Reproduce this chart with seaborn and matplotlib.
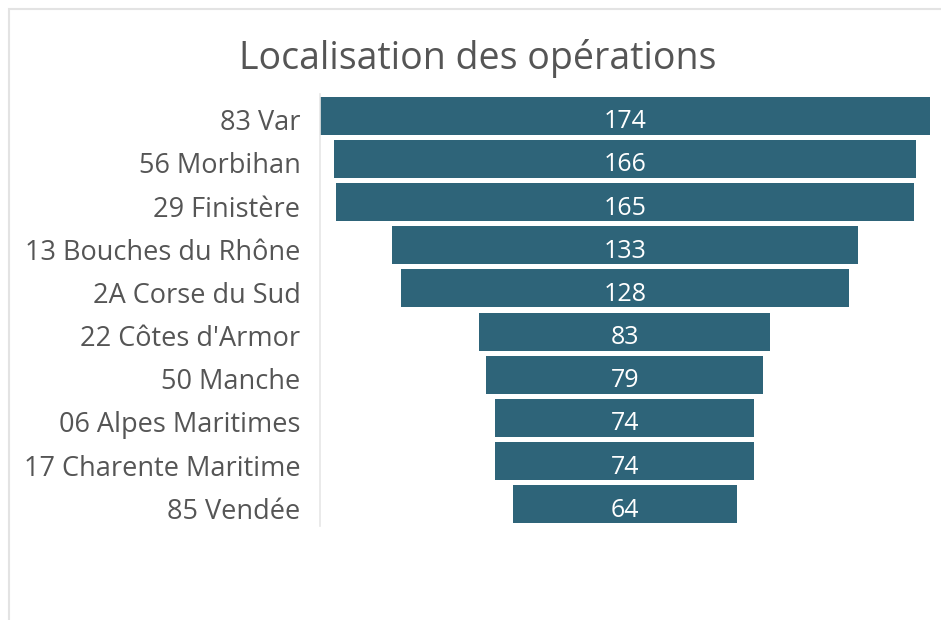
import matplotlib
matplotlib.use("Agg")
import matplotlib.pyplot as plt
import matplotlib.transforms as mtransforms
import seaborn as sns
import pandas as pd
from matplotlib.patches import Rectangle

categories = ["83 Var", "56 Morbihan", "29 Finistère", "13 Bouches du Rhône",
              "2A Corse du Sud", "22 Côtes d'Armor", "50 Manche",
              "06 Alpes Maritimes", "17 Charente Maritime", "85 Vendée"]
values = [174, 166, 165, 133, 128, 83, 79, 74, 74, 64]
title = "Localisation des opérations"

sns.set_theme(style="white")
plt.rcParams["font.family"] = ["Open Sans", "DejaVu Sans"]

df = pd.DataFrame({"cat": categories, "val": values})
vmax = max(values)

fig = plt.figure(figsize=(9.41, 6.2), dpi=100)
fig.patches.append(Rectangle((0.0095, -0.01), 1.0, 0.996, transform=fig.transFigure,
                             fill=False, edgecolor="#e3e3e3", linewidth=1.5))
ax = fig.add_axes([0.340, 0.152, 0.648, 0.696])
color = "#2e6479"
sns.barplot(data=df, x="val", y="cat", orient="h", color=color, saturation=1,
            width=0.88, ax=ax)
for p, v in zip(ax.patches, values):
    p.set_x((vmax - v) / 2)
    p.set_edgecolor("none")
    ax.text(vmax / 2, p.get_y() + p.get_height() / 2 + 0.29, f"{v}", ha="center",
            va="baseline", color="white", fontsize=18)

ax.set_xlim(0, vmax)
ax.set_ylim(len(values) - 0.5, -0.5)
ax.set_xlabel("")
ax.set_ylabel("")
ax.set_xticks([])
for s in ["top", "right", "bottom"]:
    ax.spines[s].set_visible(False)
ax.spines["left"].set_color("#e6e6e6")
ax.spines["left"].set_linewidth(1.2)
ax.tick_params(axis="y", length=0, pad=14, labelsize=19.5, labelcolor="#555555")
offset = mtransforms.ScaledTranslation(0, -4 / 100, fig.dpi_scale_trans)
for lbl in ax.get_yticklabels():
    lbl.set_transform(lbl.get_transform() + offset)
fig.text(0.508, 0.905, title, ha="center", va="center", fontsize=27, color="#555555")

fig.savefig("out.png", dpi=100)
